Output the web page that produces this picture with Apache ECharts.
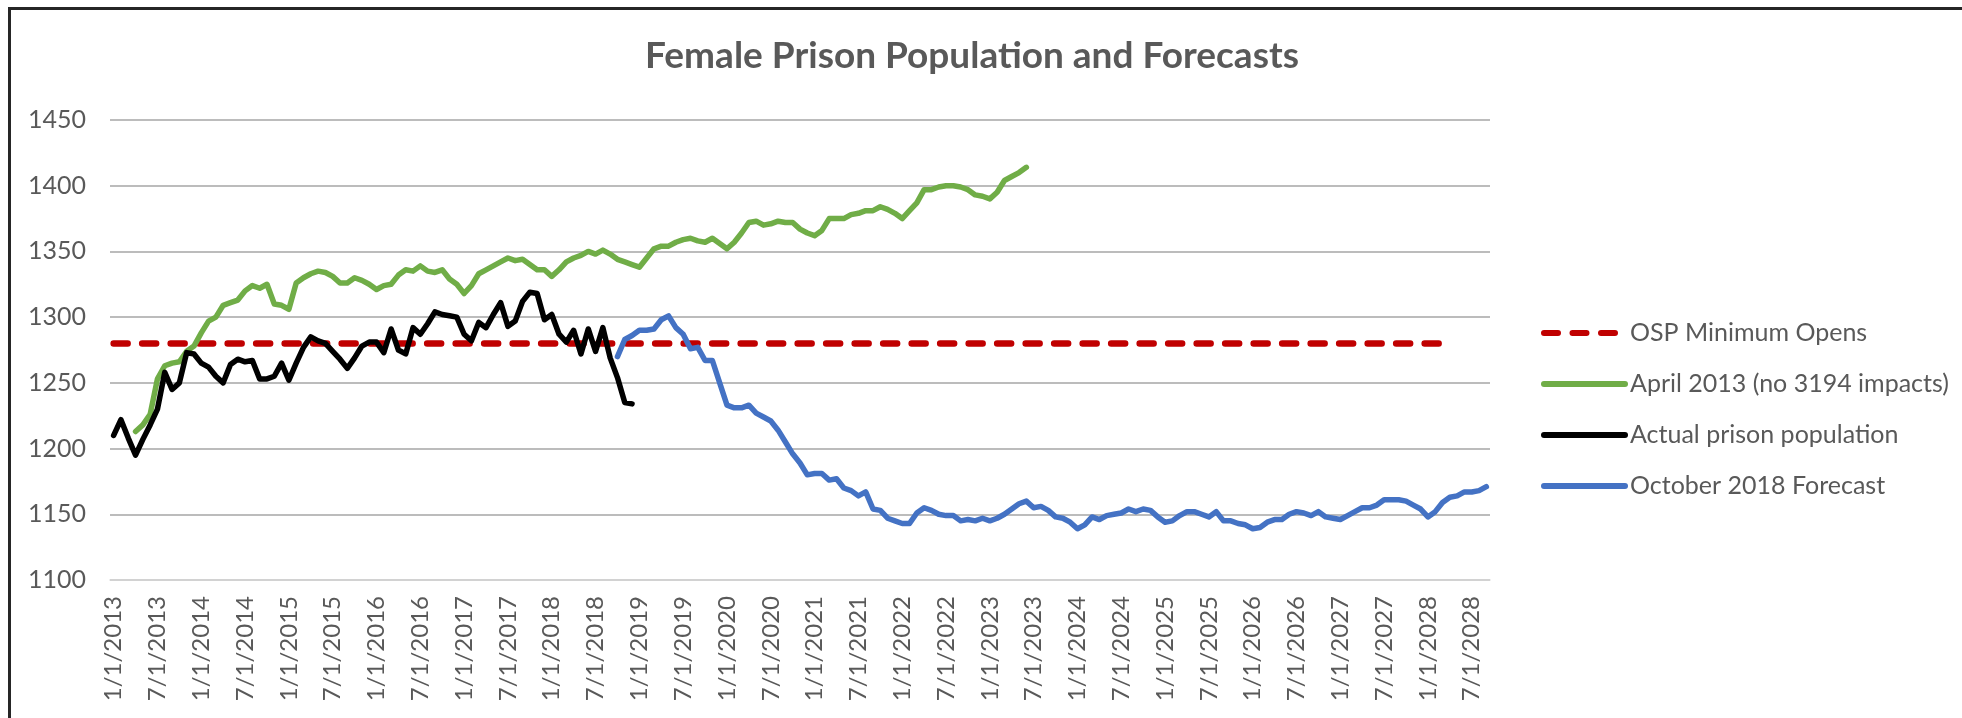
<!DOCTYPE html>
<html>
<head>
<meta charset="utf-8">
<title>Female Prison Population and Forecasts</title>
<script src="https://cdn.jsdelivr.net/npm/echarts@6/dist/echarts.min.js"></script>
<style>
  html, body { margin: 0; padding: 0; background: #fff; }
  #chart { width: 1962px; height: 718px; }
  .frame {
    position: absolute; left: 8px; top: 7px; right: 0; bottom: 0;
    border-left: 3px solid #262626; border-top: 3px solid #262626;
    pointer-events: none;
  }
</style>
</head>
<body>
<div id="chart"></div>
<div class="frame"></div>
<script>
// monthly categories, 1/1/2013 .. 9/1/2028
const firstYear = 2013
const monthCount = 189
const months = []
for (let k = 0; k < monthCount; k++) {
  months.push((k % 12 + 1) + '/1/' + (firstYear + Math.floor(k / 12)))
}

const yTicks = { min: 1100, max: 1450, step: 50 }

// OSP minimum opens: flat line, start and end
const ospMin = [['1/1/2013', 1280], ['3/1/2028', 1280]]

// actual prison population, starts 1/1/2013
const actualStart = '1/1/2013'
const actual = [
  1210, 1222, 1208, 1195, 1207, 1218, 1230, 1258, 1245, 1250, 1273, 1272,
  1265, 1262, 1255, 1250, 1264, 1268, 1266, 1267, 1253, 1253, 1255, 1265,
  1252, 1265, 1277, 1285, 1282, 1280, 1274, 1268, 1261, 1269, 1278, 1281,
  1281, 1273, 1291, 1275, 1272, 1292, 1287, 1295, 1304, 1302, 1301, 1300,
  1287, 1282, 1296, 1292, 1302, 1311, 1293, 1297, 1312, 1319, 1318, 1298,
  1302, 1287, 1281, 1290, 1272, 1291, 1274, 1292, 1269, 1254, 1235, 1234
]

// April 2013 forecast, starts 4/1/2013
const april2013Start = '4/1/2013'
const april2013 = [
  1213, 1218, 1226, 1253, 1263, 1265, 1266, 1274, 1278,
  1288, 1297, 1300, 1309, 1311, 1313, 1320, 1324, 1322, 1325, 1310, 1309,
  1306, 1326, 1330, 1333, 1335, 1334, 1331, 1326, 1326, 1330, 1328, 1325,
  1321, 1324, 1325, 1332, 1336, 1335, 1339, 1335, 1334, 1336, 1329, 1325,
  1318, 1324, 1333, 1336, 1339, 1342, 1345, 1343, 1344, 1340, 1336, 1336,
  1331, 1336, 1342, 1345, 1347, 1350, 1348, 1351, 1348, 1344, 1342, 1340,
  1338, 1345, 1352, 1354, 1354, 1357, 1359, 1360, 1358, 1357, 1360, 1356,
  1352, 1357, 1364, 1372, 1373, 1370, 1371, 1373, 1372, 1372, 1367, 1364,
  1362, 1366, 1375, 1375, 1375, 1378, 1379, 1381, 1381, 1384, 1382, 1379,
  1375, 1381, 1387, 1397, 1397, 1399, 1400, 1400, 1399, 1397, 1393, 1392,
  1390, 1395, 1404, 1407, 1410, 1414
]

// October 2018 forecast, starts 10/1/2018
const oct2018Start = '10/1/2018'
const oct2018 = [
  1270, 1283, 1286,
  1290, 1290, 1291, 1298, 1301, 1292, 1287, 1276, 1277, 1267, 1267, 1250,
  1233, 1231, 1231, 1233, 1227, 1224, 1221, 1214, 1205, 1196, 1189, 1180,
  1181, 1181, 1176, 1177, 1170, 1168, 1164, 1167, 1154, 1153, 1147, 1145,
  1143, 1143, 1151, 1155, 1153, 1150, 1149, 1149, 1145, 1146, 1145, 1147,
  1145, 1147, 1150, 1154, 1158, 1160, 1155, 1156, 1153, 1148, 1147, 1144,
  1139, 1142, 1148, 1146, 1149, 1150, 1151, 1154, 1152, 1154, 1153, 1148,
  1144, 1145, 1149, 1152, 1152, 1150, 1148, 1152, 1145, 1145, 1143, 1142,
  1139, 1140, 1144, 1146, 1146, 1150, 1152, 1151, 1149, 1152, 1148, 1147,
  1146, 1149, 1152, 1155, 1155, 1157, 1161, 1161, 1161, 1160, 1157, 1154,
  1148, 1152, 1159, 1163, 1164, 1167, 1167, 1168, 1171
]

function pairs (start, values) {
  const s = months.indexOf(start)
  return values.map((v, k) => [months[s + k], v])
}

const font = 'Lato, "Open Sans", sans-serif'
const grey = '#595959'

const chart = echarts.init(document.getElementById('chart'))
const lineBase = { type: 'line', symbol: 'none', smooth: false, silent: true }

chart.setOption({
  animation: false,
  textStyle: { fontFamily: font },
  title: {
    text: 'Female Prison Population and Forecasts',
    left: 967,
    textAlign: 'center',
    top: 33,
    textStyle: { fontFamily: font, fontSize: 37, fontWeight: 'bold', color: grey }
  },
  legend: {
    orient: 'vertical',
    left: 1536,
    top: 313,
    itemWidth: 81,
    itemHeight: 14,
    itemGap: 21,
    // hide the dot line series put in the middle of the legend line
    itemStyle: { color: 'rgba(0,0,0,0)', borderWidth: 0 },
    lineStyle: { width: 6, cap: 'round' },
    textStyle: { fontFamily: font, fontSize: 25, color: grey, lineHeight: 30 },
    data: ['OSP Minimum Opens', 'April 2013 (no 3194 impacts)', 'Actual prison population', 'October 2018 Forecast']
  },
  grid: { left: 110, right: 472, top: 120, bottom: 138 },
  xAxis: {
    type: 'category',
    data: months,
    boundaryGap: true,
    axisTick: { show: false },
    axisLine: { lineStyle: { color: '#d9d9d9', width: 1.5 } },
    axisLabel: {
      interval: 5,
      rotate: 90,
      margin: 16,
      fontFamily: font,
      fontSize: 24,
      color: grey
    },
    splitLine: { show: false }
  },
  yAxis: {
    type: 'value',
    min: yTicks.min,
    max: yTicks.max,
    interval: yTicks.step,
    axisLine: { show: false },
    axisTick: { show: false },
    axisLabel: { margin: 24, fontFamily: font, fontSize: 25, color: grey, formatter: v => String(v) },
    splitLine: { lineStyle: { color: '#a6a6a6', width: 1.5 } }
  },
  series: [
    {
      ...lineBase,
      name: 'OSP Minimum Opens',
      data: ospMin,
      lineStyle: { color: '#c00000', width: 6.5, type: [14, 14.5], cap: 'round' },
      itemStyle: { color: '#c00000' }
    },
    {
      ...lineBase,
      name: 'April 2013 (no 3194 impacts)',
      data: pairs(april2013Start, april2013),
      lineStyle: { color: '#70ad47', width: 5.5, cap: 'round', join: 'round' },
      itemStyle: { color: '#70ad47' }
    },
    {
      ...lineBase,
      name: 'Actual prison population',
      data: pairs(actualStart, actual),
      lineStyle: { color: '#000000', width: 5.5, cap: 'round', join: 'round' },
      itemStyle: { color: '#000000' }
    },
    {
      ...lineBase,
      name: 'October 2018 Forecast',
      data: pairs(oct2018Start, oct2018),
      lineStyle: { color: '#4472c4', width: 5.5, cap: 'round', join: 'round' },
      itemStyle: { color: '#4472c4' }
    }
  ]
})
</script>
</body>
</html>
